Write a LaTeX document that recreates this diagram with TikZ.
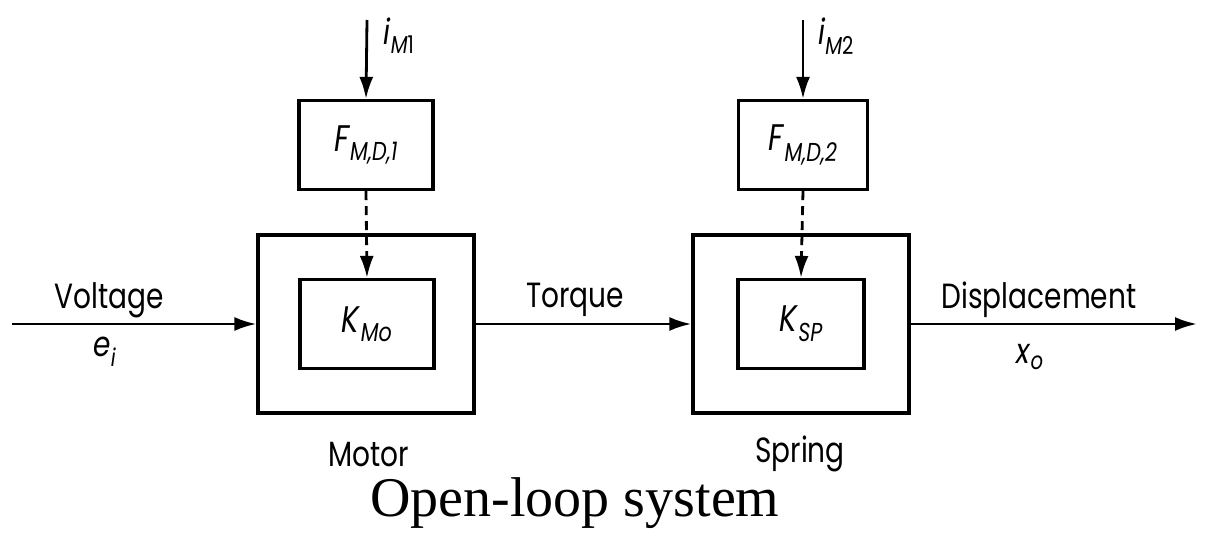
\documentclass[tikz,border=0pt]{standalone}
\usepackage{fontspec}
\usepackage{graphicx}
\setmainfont{Liberation Serif}
\newfontfamily\lblfont{Poppins}
\usetikzlibrary{arrows.meta,positioning}
\newcommand{\blocksym}[2]{\textit{#1}\textsubscript{\textit{#2}}}
\newcommand{\narrow}[1]{\scalebox{0.8}[1]{#1}}

\begin{document}
\begin{tikzpicture}[x=1pt, y=-1pt,
    blk/.style={draw, line width=3.2pt, minimum width=134pt, minimum height=89pt,
      font=\lblfont\fontsize{37}{40}\selectfont},
    housing/.style={draw, line width=3.2pt, minimum width=216pt, minimum height=178pt},
    lbl/.style={font=\lblfont\fontsize{35}{38}\selectfont},
    sig/.style={line width=2.8pt, -{Latex[length=22pt, width=14pt]}}]

  \useasboundingbox (0,0) rectangle (1211,538);

  %% motor stage
  \node[housing] (motor) at (366,324) {};
  \node[blk] (kmo) at (367,324) {\narrow{\blocksym{K}{Mo}}};
  \node[blk] (fmd1) at (366,145) {\narrow{\blocksym{F}{M,D,1}}};
  \coordinate (im1) at (367,20);

  %% spring stage
  \node[housing] (spring) at (801,324) {};
  \node[blk, minimum width=126pt] (ksp) at (801,324) {\narrow{\blocksym{K}{SP}}};
  \node[blk, minimum width=129pt] (fmd2) at (803,145) {\narrow{\blocksym{F}{M,D,2}}};
  \coordinate (im2) at (803,20);

  \coordinate (vin) at (12,324);
  \coordinate (xout) at (1197,324);

  %% signals
  \draw[sig] (vin) -- (motor.west);
  \draw[sig] (motor.east) -- (spring.west);
  \draw[sig] (spring.east) -- (xout);
  \draw[sig] (im1) -- (fmd1.north);
  \draw[sig] (im2) -- (fmd2.north);
  \draw[sig, dashed, dash pattern=on 9pt off 6pt] (fmd1.south) -- (kmo.north);
  \draw[sig, dashed, dash pattern=on 9pt off 6pt] (fmd2.south) -- (ksp.north);

  %% labels
  \node[lbl] (voltage) at (109,300) {\narrow{Voltage}};
  \node[lbl] (ei) at (105,352) {\narrow{\textit{e}\textsubscript{\textit{i}}}};
  \node[lbl] (torque) at (575,300) {\narrow{Torque}};
  \node[lbl] (displ) at (1039,300) {\narrow{Displacement}};
  \node[lbl] (xo) at (1030,357) {\narrow{\textit{x}\textsubscript{\textit{o}}}};
  \node[lbl] (iml1) at (399,36) {\narrow{\textit{i}\textsubscript{\textit{M}1}}};
  \node[lbl] (iml2) at (836,36) {\narrow{\textit{i}\textsubscript{\textit{M}2}}};
  \node[lbl] (motorlbl) at (369,455) {\narrow{Motor}};
  \node[lbl] (springlbl) at (800,454) {\narrow{Spring}};
  \node[font=\fontsize{56}{60}\selectfont] (title) at (575,503) {Open-loop system};

\end{tikzpicture}
\end{document}
